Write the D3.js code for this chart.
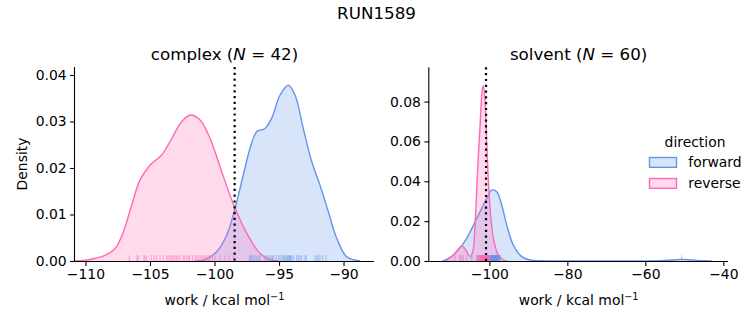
<!DOCTYPE html>
<html><head><meta charset="utf-8">
<script src="https://cdn.jsdelivr.net/npm/d3@7"></script>
<style>body{margin:0;background:#fff}svg{display:block}text{font-family:"DejaVu Sans",sans-serif;fill:#000}</style>
</head><body><svg id="c" width="753" height="325"></svg>
<script>
// ---------- data ----------
const suptitle = "RUN1589";
const directions = ["forward", "reverse"];
const colors = ["#6495ed", "#ff69b4"];
// complex leg: KDE curves [work, density]
const complexForwardX = [-101.5,-100.87,-99.83,-99.05,-98.41,-97.77,-97.25,-96.73,-96.09,-95.57,-94.92,-94.28,-93.76,-93.12,-92.47,-91.82,-91.18,-90.53,-89.75,-88.7];
const complexForwardY = [0,0.0002,0.002,0.0056,0.0113,0.0185,0.0242,0.0278,0.0285,0.0307,0.0357,0.0378,0.0357,0.0285,0.0214,0.0163,0.0106,0.0049,0.0009,0];
const complexReverseX = [-110.8,-110.0,-109.2,-108.5,-107.7,-107.07,-106.42,-105.78,-105.0,-104.1,-103.3,-102.54,-101.85,-101.12,-100.35,-99.44,-98.5,-97.5,-96.5,-95.7,-95.0];
const complexReverseY = [0,0.0002,0.0006,0.0012,0.0027,0.0062,0.012,0.0174,0.0206,0.0228,0.0264,0.030,0.0314,0.0303,0.0264,0.0192,0.012,0.006,0.0017,0.0003,0];
// solvent leg
const solventForwardX = [-112,-111,-109.5,-108.36,-105.8,-103.67,-101.95,-100.67,-99.38,-98.1,-96.82,-95.54,-93.85,-91.69,-89.56,-87,-80,-60,-56,-53,-50.7,-48,-45,-43];
const solventForwardY = [0,0.0008,0.0025,0.0047,0.0114,0.0197,0.0264,0.0314,0.0356,0.0347,0.028,0.018,0.008,0.0022,0.0005,0.0001,0,0,0.0001,0.0005,0.0008,0.0005,0.0001,0];
const solventReverseX = [-111.6,-110.5,-109.23,-108,-107.08,-106.4,-105.8,-104.95,-104.26,-103.67,-103.08,-102.38,-101.79,-101.54,-101.1,-100.51,-99.82,-98.97,-97.69,-96.41,-95.5];
const solventReverseY = [0,0.001,0.003,0.0058,0.0075,0.0065,0.0047,0.0022,0.0047,0.018,0.043,0.068,0.0865,0.088,0.080,0.0515,0.0264,0.0114,0.003,0.0005,0];
// rug samples
const complexForwardRug = [-97.30,-97.19,-97.12,-96.99,-96.86,-96.73,-96.6,-96.47,-96.09,-95.95,-95.83,-95.70,-95.57,-95.5,-95.39,-95.23,-95.05,-94.92,-94.79,-94.67,-94.6,-94.53,-94.40,-94.36,-94.28,-94.20,-94.15,-94.1,-94.02,-93.89,-93.63,-93.5,-93.37,-93.24,-92.98,-92.9,-92.21,-92.08,-91.95,-91.82,-91.61,-91.36];
const complexReverseRug = [-106.6,-106.0,-105.91,-105.47,-105.39,-105.26,-104.9,-104.69,-104.5,-104.22,-103.97,-103.71,-103.6,-103.45,-103.32,-103.19,-103.06,-102.93,-102.81,-102.67,-102.42,-102.3,-102.16,-102.0,-101.95,-101.7,-101.51,-101.38,-101.26,-101.12,-100.99,-100.87,-100.74,-100.6,-100.48,-100.35,-100.14,-99.96,-99.57,-99.19,-98.85,-98.54];
const solventForwardRug = [-104.5,-103.0,-102.4,-102.0,-101.6,-101.4,-101.2,-101.0,-100.9,-100.8,-100.7,-100.6,-100.5,-100.4,-100.3,-100.2,-100.1,-100.0,-99.95,-99.9,-99.8,-99.7,-99.6,-99.55,-99.5,-99.45,-99.4,-99.35,-99.3,-99.25,-99.2,-99.15,-99.1,-99.05,-99.0,-98.95,-98.9,-98.8,-98.7,-98.65,-98.6,-98.55,-98.5,-98.45,-98.4,-98.3,-98.25,-98.2,-98.15,-98.1,-98.0,-97.95,-97.9,-97.8,-97.7,-97.6,-97.5,-97.4,-97.2,-50.7];
const solventReverseRug = [-108.8,-107.6,-107.3,-107.0,-106.7,-105.9,-103.3,-103.1,-102.9,-102.8,-102.7,-102.6,-102.5,-102.4,-102.3,-102.2,-102.15,-102.1,-102.0,-101.95,-101.9,-101.85,-101.8,-101.78,-101.75,-101.7,-101.65,-101.62,-101.6,-101.55,-101.52,-101.5,-101.48,-101.45,-101.4,-101.35,-101.32,-101.3,-101.28,-101.25,-101.2,-101.15,-101.1,-101.08,-101.05,-101.0,-100.95,-100.9,-100.8,-100.7,-100.65,-100.6,-100.5,-100.4,-100.3,-100.2,-100.1,-100.0,-99.9,-99.8];
const complexMedianLine = -98.44;
const solventMedianLine = -100.85;
const complexXTicks = [-110,-105,-100,-95,-90];
const complexYTicks = [0,0.01,0.02,0.03,0.04];
const solventXTicks = [-100,-80,-60,-40];
const solventYTicks = [0,0.02,0.04,0.06,0.08];

// ---------- drawing ----------
const svg = d3.select("#c");
const FS = 13.9;
svg.append("text").attr("x",376.5).attr("y",19).attr("text-anchor","middle").style("font-size","16.7px").text(suptitle);

function panel(o){
  const g = svg.append("g");
  const x = d3.scaleLinear().domain(o.xd).range([o.x0,o.x1]);
  const y = d3.scaleLinear().domain(o.yd).range([o.yb,o.yt]);
  const clipId = "clip"+o.id;
  svg.append("clipPath").attr("id",clipId).append("rect").attr("x",o.x0).attr("y",o.yt).attr("width",o.x1-o.x0).attr("height",o.yb-o.yt);
  const curve = d3.curveCatmullRom.alpha(0.5);
  const area = d3.area().x(d=>x(d[0])).y0(y(0)).y1(d=>y(d[1])).curve(curve);
  const line = d3.line().x(d=>x(d[0])).y(d=>y(d[1])).curve(curve);
  const plot = g.append("g").attr("clip-path",`url(#${clipId})`);
  o.series.forEach((s,i)=>{
    const pts = s.xs.map((v,j)=>[v,s.ys[j]]);
    plot.append("path").attr("d",area(pts)).attr("fill",colors[i]).attr("fill-opacity",0.25);
    plot.append("path").attr("d",line(pts)).attr("fill","none").attr("stroke",colors[i]).attr("stroke-width",1.4);
  });
  o.series.forEach((s,i)=>{
    plot.selectAll(null).data(s.rug).enter().append("line")
      .attr("x1",d=>x(d)).attr("x2",d=>x(d)).attr("y1",o.yb).attr("y2",o.yb-5.8)
      .attr("stroke",colors[i]).attr("stroke-width",1).attr("stroke-opacity",0.55);
  });
  g.append("line").attr("x1",x(o.vline)).attr("x2",x(o.vline)).attr("y1",o.yt).attr("y2",o.yb)
    .attr("stroke","#000").attr("stroke-width",2.2).attr("stroke-dasharray","2.2,3.6");
  const xa = g.append("g").attr("transform",`translate(0,${o.yb})`)
    .call(d3.axisBottom(x).tickValues(o.xt).tickSize(4.9).tickPadding(3.5).tickFormat(d3.format("d")));
  const ya = g.append("g").attr("transform",`translate(${o.x0},0)`)
    .call(d3.axisLeft(y).tickValues(o.yt2).tickSize(4.9).tickPadding(3.5).tickFormat(d3.format(".2f")));
  [xa,ya].forEach(a=>{
    a.select(".domain").attr("stroke","#000").attr("stroke-width",1.1);
    a.selectAll(".tick line").attr("stroke","#000").attr("stroke-width",1.1);
    a.selectAll("text").style("font-size",FS+"px").style("font-family","DejaVu Sans").attr("fill","#000");
  });
  xa.select(".domain").attr("d",`M${o.x0},0.5H${o.x1}`);
  ya.select(".domain").attr("d",`M-0.5,${o.yt}V${o.yb}`);
  const cx = (o.x0+o.x1)/2;
  const t = svg.append("text").attr("x",cx).attr("y",60).attr("text-anchor","middle").style("font-size","16.7px");
  t.append("tspan").text(o.name+" (");
  t.append("tspan").style("font-style","italic").text("N");
  t.append("tspan").text(" = "+o.n+")");
  const xl = svg.append("text").attr("x",cx).attr("y",305).attr("text-anchor","middle").style("font-size",FS+"px");
  xl.append("tspan").text("work / kcal mol");
  xl.append("tspan").attr("dy",-5.5).style("font-size","9.7px").text("\u22121");
}

panel({id:"L",name:"complex",n:42,x0:75,x1:374,yt:67,yb:261,xd:[-110.81,-87.64],yd:[0,0.04172],
  xt:complexXTicks,yt2:complexYTicks,vline:complexMedianLine,
  series:[{xs:complexForwardX,ys:complexForwardY,rug:complexForwardRug},{xs:complexReverseX,ys:complexReverseY,rug:complexReverseRug}]});
panel({id:"R",name:"solvent",n:60,x0:429.3,x1:728,yt:67.3,yb:261,xd:[-115.4,-38.8],yd:[0,0.0972],
  xt:solventXTicks,yt2:solventYTicks,vline:solventMedianLine,
  series:[{xs:solventForwardX,ys:solventForwardY,rug:solventForwardRug},{xs:solventReverseX,ys:solventReverseY,rug:solventReverseRug}]});

svg.append("text").attr("x",22).attr("y",164).attr("text-anchor","middle")
  .attr("transform","rotate(-90,22,164)").attr("dy","0.35em").style("font-size",FS+"px").text("Density");

const lg = svg.append("g");
lg.append("text").attr("x",695).attr("y",146.5).attr("text-anchor","middle").style("font-size",FS+"px").text("direction");
directions.forEach((d,i)=>{
  const yy = 157.5 + i*21;
  lg.append("rect").attr("x",649.5).attr("y",yy).attr("width",27).attr("height",9.8)
    .attr("fill",colors[i]).attr("fill-opacity",0.25).attr("stroke",colors[i]).attr("stroke-width",1.4);
  lg.append("text").attr("x",688.3).attr("y",yy+9.5).style("font-size",FS+"px").text(d);
});
</script></body></html>
